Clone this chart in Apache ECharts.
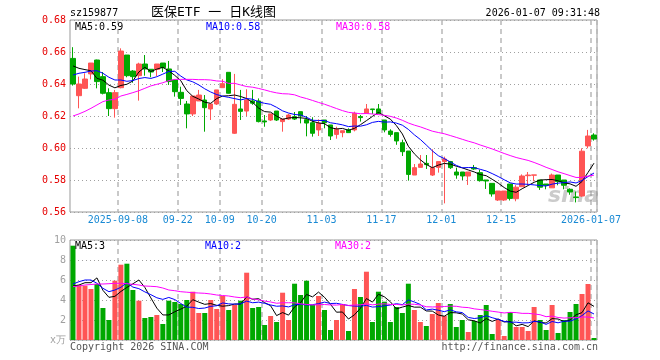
<!DOCTYPE html>
<html><head><meta charset="utf-8">
<script src="https://cdn.jsdelivr.net/npm/echarts@6/dist/echarts.min.js"></script>
<style>html,body{margin:0;padding:0;background:#fff}#c{width:660px;height:360px}</style>
</head><body><div id="c"></div>
<script>
const categories = [
'2025-08-27','2025-08-28','2025-08-29',
'2025-09-01','2025-09-02','2025-09-03','2025-09-04','2025-09-05',
'2025-09-08','2025-09-09','2025-09-10','2025-09-11','2025-09-12',
'2025-09-15','2025-09-16','2025-09-17','2025-09-18','2025-09-19',
'2025-09-22','2025-09-23','2025-09-24','2025-09-25','2025-09-26',
'2025-09-29','2025-09-30',
'2025-10-09','2025-10-10',
'2025-10-13','2025-10-14','2025-10-15','2025-10-16','2025-10-17',
'2025-10-20','2025-10-21','2025-10-22','2025-10-23','2025-10-24',
'2025-10-27','2025-10-28','2025-10-29','2025-10-30','2025-10-31',
'2025-11-03','2025-11-04','2025-11-05','2025-11-06','2025-11-07',
'2025-11-10','2025-11-11','2025-11-12','2025-11-13','2025-11-14',
'2025-11-17','2025-11-18','2025-11-19','2025-11-20','2025-11-21',
'2025-11-24','2025-11-25','2025-11-26','2025-11-27','2025-11-28',
'2025-12-01','2025-12-02','2025-12-03','2025-12-04','2025-12-05',
'2025-12-08','2025-12-09','2025-12-10','2025-12-11','2025-12-12',
'2025-12-15','2025-12-16','2025-12-17','2025-12-18','2025-12-19',
'2025-12-22','2025-12-23','2025-12-24','2025-12-25','2025-12-26',
'2025-12-29','2025-12-30','2025-12-31',
'2026-01-05','2026-01-06','2026-01-07'];

const opens = [0.656,0.6327,0.6373,0.6463,0.655,0.6446,0.6346,0.6246,0.6377,0.6581,
0.6481,0.6452,0.6525,0.6492,0.6492,0.6531,0.6494,0.6425,0.6348,0.6275,
0.6213,0.6294,0.630,0.6244,0.6275,0.6377,0.6473,0.6092,0.6244,0.6231,
0.6294,0.6294,0.6169,0.6175,0.6231,0.6165,0.6181,0.6196,0.6227,0.6177,
0.6158,0.6113,0.6175,0.6144,0.6085,0.6096,0.6113,0.6113,0.6196,0.6217,
0.6244,0.6244,0.6175,0.6106,0.6096,0.6033,0.5981,0.5831,0.5879,0.5904,
0.5831,0.5879,0.5915,0.5915,0.585,0.585,0.5825,0.5877,0.5846,0.580,
0.5779,0.5675,0.5675,0.5775,0.5683,0.5758,0.5827,0.583,0.58,0.5775,
0.5751,0.5831,0.58,0.5742,0.5694,0.570,0.6013,0.6081];
const closes = [0.640,0.640,0.6431,0.6531,0.6415,0.6342,0.6246,0.6346,0.6606,0.6452,
0.6446,0.6525,0.6494,0.6475,0.6525,0.6502,0.6415,0.6352,0.6310,0.6213,
0.6325,0.6331,0.6252,0.6275,0.6363,0.6402,0.6342,0.6273,0.6229,0.630,
0.628,0.6165,0.6163,0.6213,0.6175,0.6181,0.6206,0.6181,0.620,0.6156,
0.6092,0.6154,0.6158,0.6075,0.6117,0.6108,0.6096,0.6217,0.619,0.6244,
0.6240,0.6219,0.6113,0.6085,0.6044,0.5977,0.5835,0.5877,0.590,0.5896,
0.5877,0.5915,0.5931,0.5877,0.5831,0.5825,0.585,0.5869,0.5796,0.5794,
0.5713,0.5731,0.5731,0.5685,0.5755,0.5825,0.5831,0.5832,0.5755,0.5767,
0.5831,0.579,0.5767,0.5725,0.569,0.598,0.6075,0.6056];
const lows = [0.639,0.6248,0.6369,0.6429,0.6373,0.6335,0.620,0.619,0.6373,0.6442,
0.6408,0.6296,0.6452,0.6442,0.645,0.6475,0.6394,0.6321,0.6269,0.6123,
0.620,0.6294,0.6102,0.6175,0.6269,0.6377,0.634,0.6088,0.6175,0.620,
0.627,0.616,0.6133,0.6169,0.6169,0.6102,0.6175,0.6175,0.6154,0.6073,
0.6071,0.6075,0.6123,0.605,0.6058,0.6067,0.6094,0.6104,0.6165,0.6217,
0.6213,0.6213,0.6098,0.6071,0.602,0.595,0.5796,0.5831,0.5879,0.5869,
0.5825,0.5846,0.5654,0.5869,0.5808,0.580,0.5769,0.5863,0.579,0.5744,
0.5696,0.5669,0.5669,0.5672,0.5667,0.5758,0.5769,0.5792,0.5738,0.5742,
0.5751,0.5767,0.5742,0.5708,0.566,0.5695,0.5998,0.6046];
const highs = [0.663,0.6446,0.6467,0.6531,0.6552,0.6475,0.6373,0.6363,0.6623,0.6581,
0.6487,0.6533,0.6581,0.6492,0.6525,0.6531,0.6544,0.6425,0.6383,0.6294,
0.6325,0.6363,0.6331,0.6275,0.6363,0.643,0.6473,0.6463,0.6363,0.6367,
0.6363,0.631,0.6206,0.6213,0.6231,0.6181,0.6213,0.6225,0.6227,0.620,
0.6192,0.6179,0.6175,0.6144,0.6133,0.6108,0.6123,0.6227,0.6206,0.6275,
0.6244,0.6275,0.6175,0.6117,0.6096,0.6052,0.5981,0.590,0.5956,0.5956,
0.5992,0.5915,0.5946,0.5919,0.5877,0.585,0.585,0.5894,0.5863,0.580,
0.5779,0.5731,0.5731,0.5775,0.5768,0.5835,0.585,0.5832,0.58,0.5775,
0.584,0.5831,0.58,0.5748,0.5728,0.5998,0.6113,0.6092];
const volumes = [9.43,5.5,5.43,5.1,5.6,3.2,2.0,5.93,7.53,7.63,
5.0,3.93,2.2,2.3,2.5,1.6,3.93,3.8,3.6,4.0,
4.83,2.7,2.7,4.0,3.1,4.4,3.0,3.5,3.93,6.73,
3.2,3.3,1.5,2.4,1.8,4.73,2.0,5.63,4.5,5.93,
3.5,4.4,3.0,1.0,2.0,3.6,0.9,5.1,4.3,6.83,
1.8,4.83,3.83,1.8,3.3,2.7,5.63,3.0,1.8,1.4,
2.6,3.7,2.4,3.6,1.3,2.0,0.8,1.9,2.5,3.5,
0.6,2.0,0.4,2.8,1.3,1.3,0.9,3.3,2.0,1.0,
3.5,0.7,2.0,2.8,3.6,4.6,5.6,0.2];

// moving-average values before enough in-window data exists
const ma5Head = [0.6513,0.6498,0.649,0.6483];
const ma10Head = [0.6456,0.6467,0.6473,0.6481,0.6483,0.6467,0.6442,0.6425,0.6425];
const ma30Head = [0.620,0.6213,0.6229,0.6248,0.6269,0.629,0.630,0.6304,0.6325,0.6335,
0.6346,0.6358,0.6373,0.6388,0.6398,0.6408,0.6421,0.6429,0.6429,0.6429,
0.6429,0.6427,0.6427,0.6425,0.6419,0.6417,0.6404,0.6404,0.6394];
const volMa5Head = [5.4,5.5,5.73,5.73];
const volMa10Head = [5.6,5.83,6.0,6.0,5.67,5.17,4.83,5.0,5.27];
const volMa30Head = [5.33,5.4,5.5,5.55,5.6,5.6,5.63,5.67,5.67,5.63,
5.57,5.5,5.4,5.37,5.33,5.2,5.0,4.93,4.83,4.78,
4.73,4.7,4.67,4.6,4.5,4.45,4.4,4.3,4.23];

const tickDates = ['2025-09-08','2025-09-22','2025-10-09','2025-10-20','2025-11-03','2025-11-17','2025-12-01','2025-12-15','2026-01-07'];
const tickLabels = ['2025-09-08','09-22','10-09','10-20','11-03','11-17','12-01','12-15','2026-01-07'];
const priceTicks = [0.56,0.58,0.60,0.62,0.64,0.66,0.68];

function movingAvg(vals, n, head){
  return vals.map((v,i)=>{
    if(i < n-1) return head[i];
    let s=0; for(let j=i-n+1;j<=i;j++) s+=vals[j];
    return s/n;
  });
}
const UP='#ff5555', DOWN='#00a800';
const MONO='"DejaVu Sans Mono", "Liberation Mono", monospace';
const tickSet = new Set(tickDates);
const isTick = (idx, val) => tickSet.has(categories[idx]);

const kData = categories.map((d,i)=>[opens[i],closes[i],lows[i],highs[i]]);
const volData = volumes.map((v,i)=>({value:v,itemStyle:{color: closes[i]>=opens[i]?UP:DOWN}}));

const vSplit = {show:true, interval:isTick, lineStyle:{color:'#b8b8b8', type:[5,4], width:1.5}};
const hSplit = {show:true, lineStyle:{color:'#a0a0a0', type:[1,3], width:1}};

const chart = echarts.init(document.getElementById('c'), null, {renderer:'canvas'});
chart.setOption({
  animation:false,
  backgroundColor:'#fff',
  grid:[
    {left:70, right:63, top:20, height:192, show:true, borderColor:'#999', borderWidth:1, outerBoundsMode:'none'},
    {left:70, right:63, top:240, height:100, show:true, borderColor:'#999', borderWidth:1, outerBoundsMode:'none'}
  ],
  xAxis:[
    {type:'category', gridIndex:0, data:categories, boundaryGap:true,
     axisLine:{show:false}, axisTick:{show:false},
     axisLabel:{interval:isTick, formatter:(v)=>tickLabels[tickDates.indexOf(v)],
       color:'#1a8ad4', fontFamily:MONO, fontSize:10, margin:3, padding:[0,6,0,0]},
     splitLine:vSplit},
    {type:'category', gridIndex:1, data:categories, boundaryGap:true,
     axisLine:{show:false}, axisTick:{show:false}, axisLabel:{show:false},
     splitLine:vSplit}
  ],
  yAxis:[
    {type:'value', gridIndex:0, min:0.56, max:0.68, interval:0.02,
     axisLine:{show:false}, axisTick:{show:false},
     axisLabel:{color:'#e60000', fontFamily:MONO, fontSize:10, margin:4,
       formatter:(v)=>v.toFixed(2)},
     splitLine:hSplit},
    {type:'value', gridIndex:1, min:0, max:10, interval:2,
     axisLine:{show:false}, axisTick:{show:false},
     axisLabel:{color:'#a0a0a0', fontFamily:MONO, fontSize:10, margin:4,
       formatter:(v)=> v===0 ? 'x万' : String(v)},
     splitLine:hSplit}
  ],
  series:[
    {type:'candlestick', xAxisIndex:0, yAxisIndex:0, data:kData, barWidth:5,
     itemStyle:{color:UP, color0:DOWN, borderColor:UP, borderColor0:DOWN, borderWidth:1}},
    {type:'line', xAxisIndex:0, yAxisIndex:0, data:movingAvg(closes,5,ma5Head), symbol:'none', lineStyle:{color:'#000', width:1}, z:3},
    {type:'line', xAxisIndex:0, yAxisIndex:0, data:movingAvg(closes,10,ma10Head), symbol:'none', lineStyle:{color:'#0000ff', width:1}, z:3},
    {type:'line', xAxisIndex:0, yAxisIndex:0, data:movingAvg(closes,30,ma30Head), symbol:'none', lineStyle:{color:'#ff00ff', width:1}, z:3},
    {type:'bar', xAxisIndex:1, yAxisIndex:1, data:volData, barWidth:5},
    {type:'line', xAxisIndex:1, yAxisIndex:1, data:movingAvg(volumes,5,volMa5Head), symbol:'none', lineStyle:{color:'#000', width:1}, z:3},
    {type:'line', xAxisIndex:1, yAxisIndex:1, data:movingAvg(volumes,10,volMa10Head), symbol:'none', lineStyle:{color:'#0000ff', width:1}, z:3},
    {type:'line', xAxisIndex:1, yAxisIndex:1, data:movingAvg(volumes,30,volMa30Head), symbol:'none', lineStyle:{color:'#ff00ff', width:1}, z:3}
  ],
  graphic:[
    {type:'text', x:70, y:13, style:{text:'sz159877', fill:'#000', font:'10px '+MONO, verticalAlign:'middle'}},
    {type:'text', x:151, y:13, style:{text:'医保ETF 一 日K线图', fill:'#000', font:'13px "DejaVu Sans Mono", "Noto Sans CJK SC", monospace', verticalAlign:'middle'}},
    {type:'text', x:600, y:13, style:{text:'2026-01-07 09:31:48', fill:'#000', font:'10px '+MONO, align:'right', verticalAlign:'middle'}},
    {type:'text', x:75, y:27, z:10, style:{text:'MA5:0.59', fill:'#000', font:'10px '+MONO, verticalAlign:'middle'}},
    {type:'text', x:206, y:27, z:10, style:{text:'MA10:0.58', fill:'#0000ff', font:'10px '+MONO, verticalAlign:'middle'}},
    {type:'text', x:336, y:27, z:10, style:{text:'MA30:0.58', fill:'#ff00ff', font:'10px '+MONO, verticalAlign:'middle'}},
    {type:'text', x:75, y:246, z:10, style:{text:'MA5:3', fill:'#000', font:'10px '+MONO, verticalAlign:'middle'}},
    {type:'text', x:205, y:246, z:10, style:{text:'MA10:2', fill:'#0000ff', font:'10px '+MONO, verticalAlign:'middle'}},
    {type:'text', x:335, y:246, z:10, style:{text:'MA30:2', fill:'#ff00ff', font:'10px '+MONO, verticalAlign:'middle'}},
    {type:'text', x:70, y:347, style:{text:'Copyright 2026 SINA.COM', fill:'#555', font:'10px '+MONO, verticalAlign:'middle'}},
    {type:'text', x:598, y:347, style:{text:'http://finance.sina.com.cn', fill:'#555', font:'10px '+MONO, align:'right', verticalAlign:'middle'}},
    {type:'text', x:548, y:196, z:1, style:{text:'sina', fill:'rgba(140,140,140,0.45)', font:'italic bold 22px "DejaVu Sans", sans-serif', verticalAlign:'middle'}}
  ]
});
</script></body></html>
